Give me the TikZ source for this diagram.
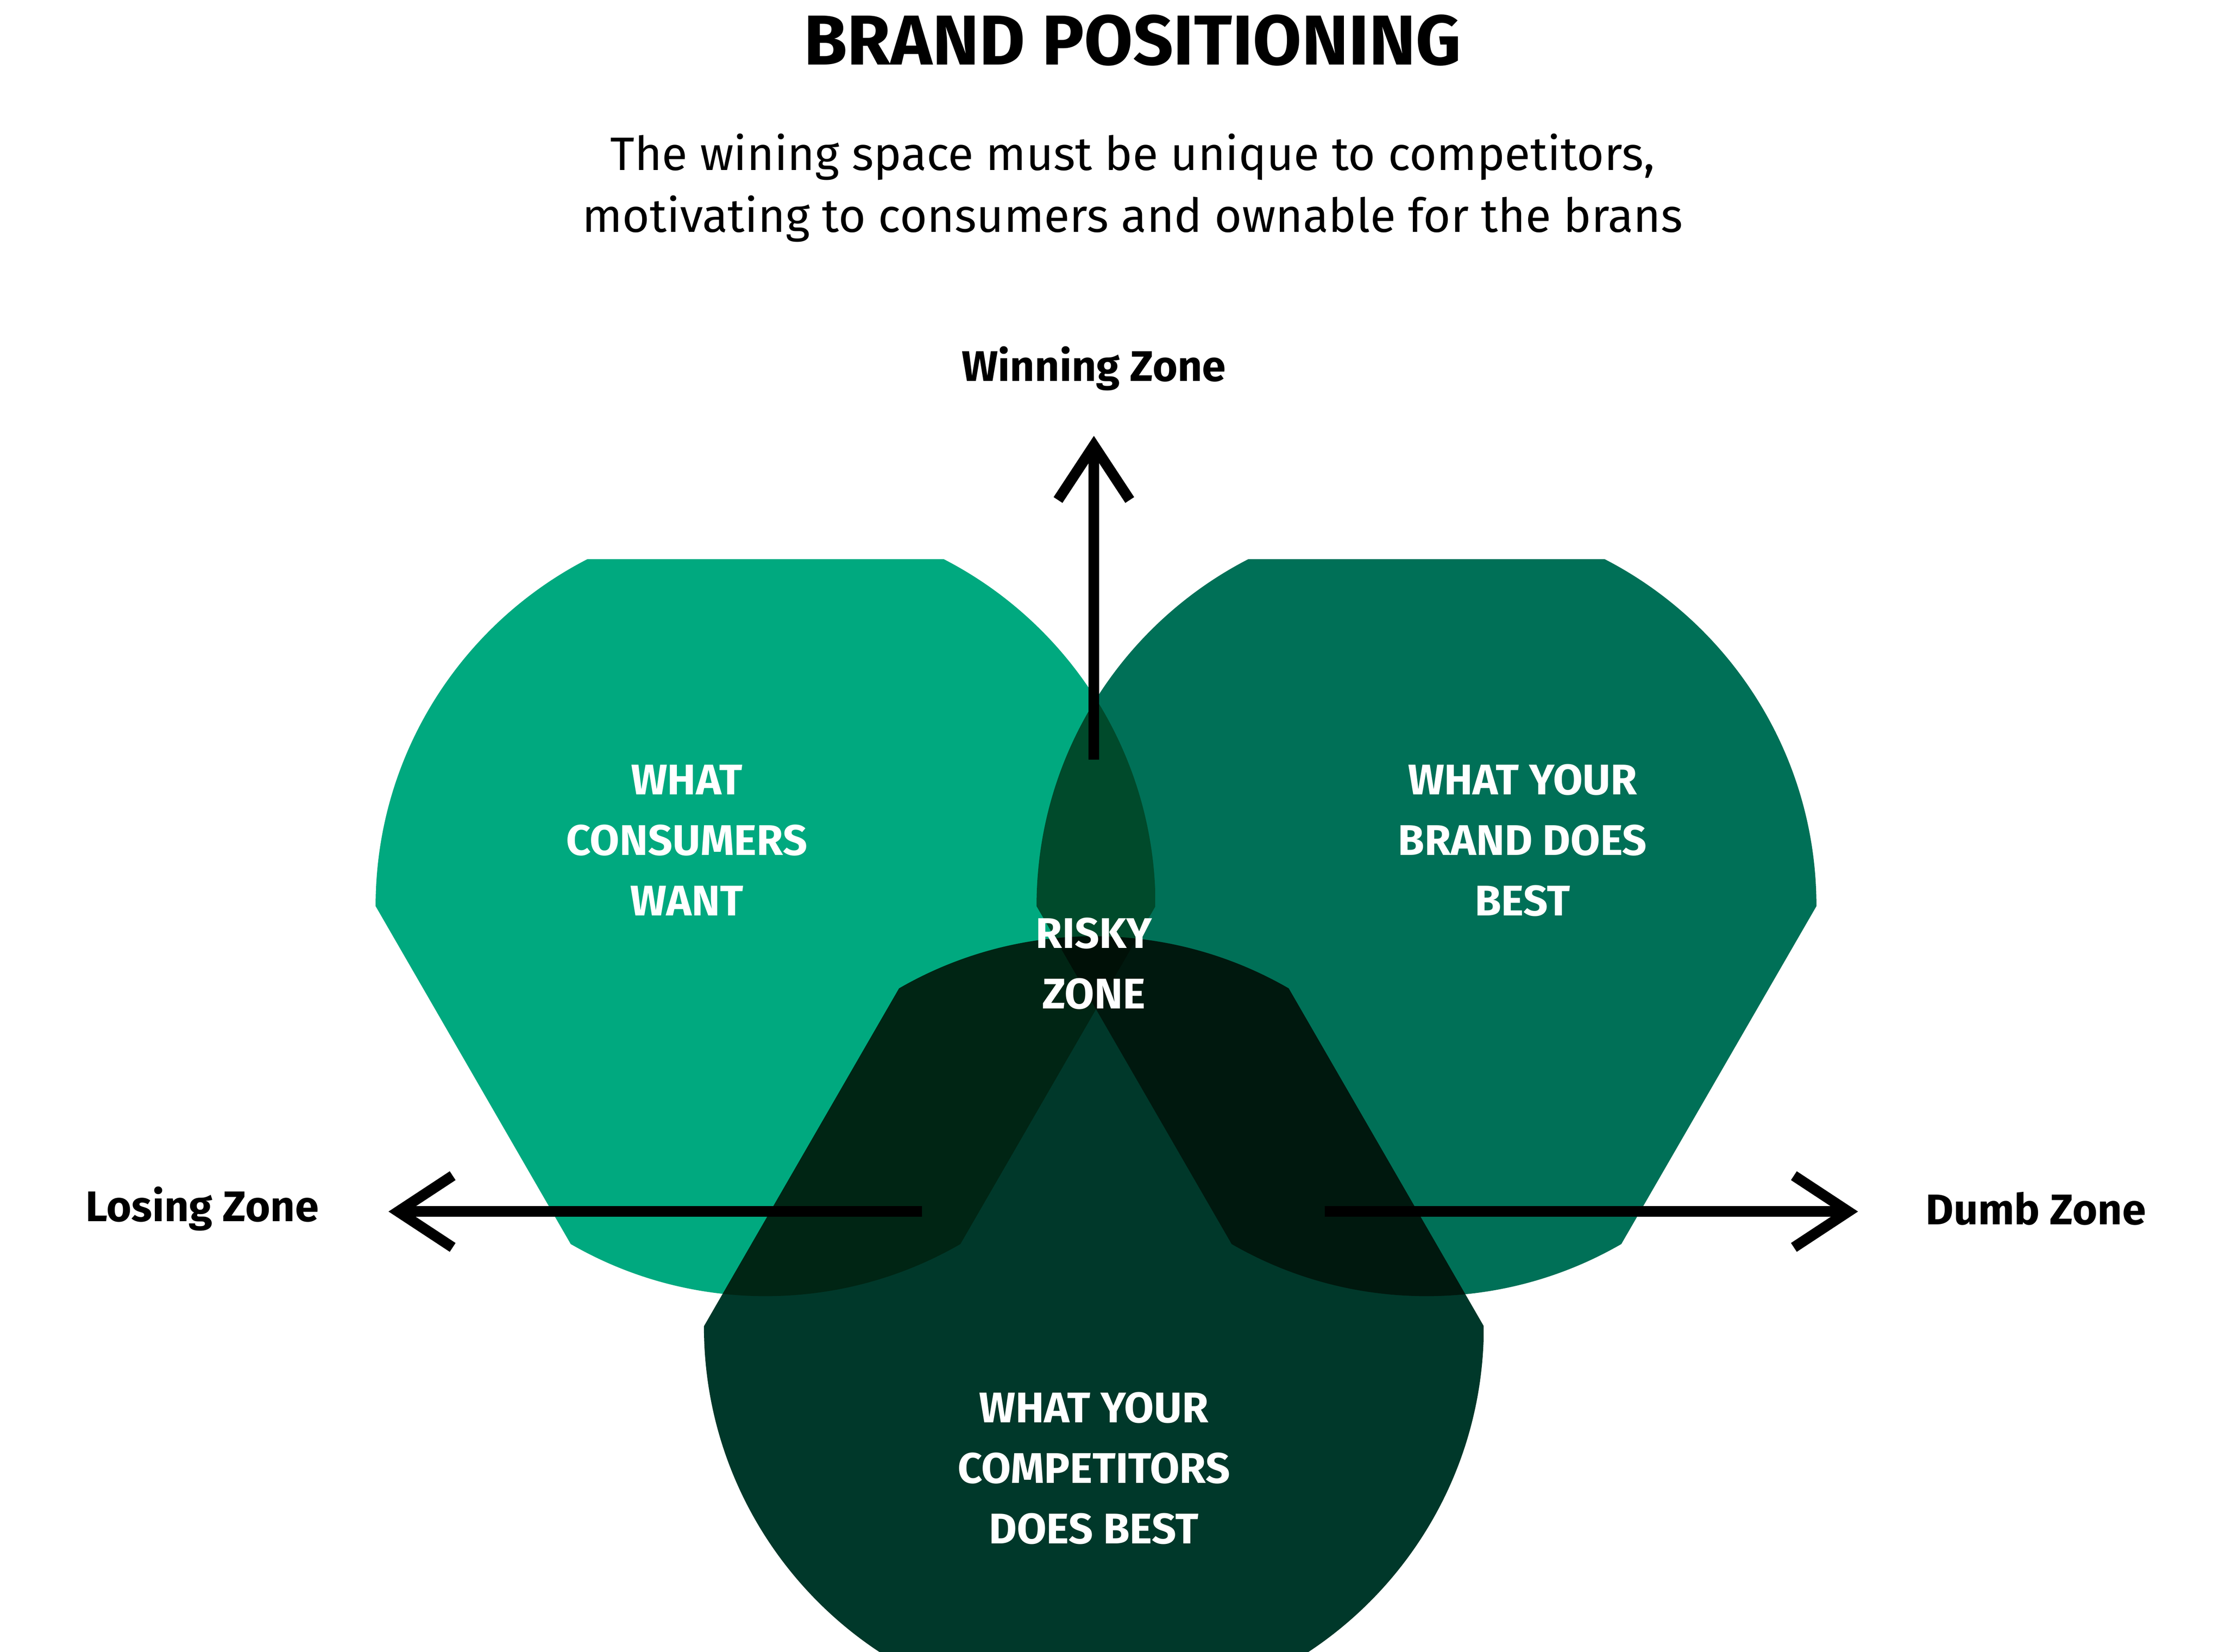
\documentclass[tikz,border=0pt]{standalone}
\usepackage{fontspec}
\setmainfont{Fira Sans}
\usetikzlibrary{arrows.meta}
\definecolor{want}{HTML}{00A97F}
\definecolor{brand}{HTML}{007057}
\definecolor{rival}{HTML}{00382A}
\begin{document}
\begin{tikzpicture}[x=0.01cm,y=-0.01cm]
\tikzstyle{zone}=[font=\bfseries\fontsize{8.5}{12}\selectfont,align=center]
\tikzstyle{inner}=[zone,text=white]
\tikzstyle{axis}=[line width=2.1pt,-{Straight Barb[length=0.38cm,width=0.5cm,line width=2.1pt]}]
\useasboundingbox (0,0) rectangle (1552,1152);
\begin{scope}[blend group=multiply]
\begin{scope}
\clip (534,632) circle (272);
\fill[want] (262,390) -- (806,390) -- (806,632) -- (534,1103) -- (262,632) -- cycle;
\end{scope}
\begin{scope}
\clip (995,632) circle (272);
\fill[brand] (723,390) -- (1267,390) -- (1267,632) -- (995,1103) -- (723,632) -- cycle;
\end{scope}
\begin{scope}
\clip (763,925) circle (272);
\fill[rival] (491,925) -- (763,454) -- (1035,925) -- (1035,1153) -- (491,1153) -- cycle;
\end{scope}
\end{scope}
\node[font=\bfseries\fontsize{14}{16}\selectfont] (title) at (790,28) {BRAND POSITIONING};
\node[font=\fontsize{9.3}{12.3}\selectfont,align=center] (sub) at (790,131) {The wining space must be unique to competitors,\\motivating to consumers and ownable for the brans};
\node[zone] (win) at (763,257) {Winning Zone};
\node[zone] (lose) at (141,843) {Losing Zone};
\node[zone] (dumb) at (1420,843) {Dumb Zone};
\node[inner] (want) at (479,586) {WHAT\\CONSUMERS\\WANT};
\node[inner] (brand) at (1062,586) {WHAT YOUR\\BRAND DOES\\BEST};
\node[inner] (risky) at (763,672) {RISKY\\ZONE};
\node[inner] (rival) at (763,1024) {WHAT YOUR\\COMPETITORS\\DOES BEST};
\coordinate (up) at (763,530);
\coordinate (left) at (643,845);
\coordinate (right) at (924,845);
\draw[axis] (up) -- (763,304);
\draw[axis] (left) -- (271,845);
\draw[axis] (right) -- (1296,845);
\end{tikzpicture}
\end{document}
